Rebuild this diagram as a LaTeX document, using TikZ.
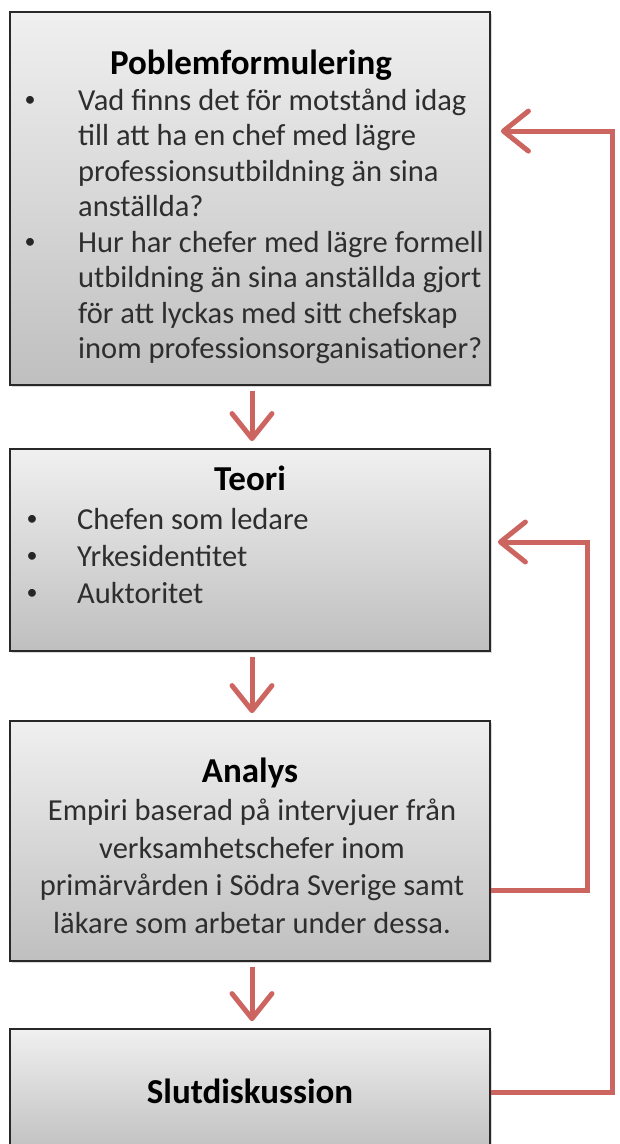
\documentclass[tikz,border=0pt]{standalone}
\usepackage{fontspec}
\setmainfont{Carlito}
\usetikzlibrary{arrows.meta,shadows}
\definecolor{arrred}{RGB}{204,100,96}
\definecolor{boxborder}{RGB}{40,40,40}
\begin{document}
\begin{tikzpicture}[x=1pt,y=-1pt,
  box/.style={rectangle, draw=boxborder, line width=1.8pt, top color=black!6, bottom color=black!25,
    minimum width=480pt, inner sep=0pt,
    drop shadow={shadow xshift=1.5pt, shadow yshift=-2pt, opacity=0.3}},
  ttl/.style={font=\fontsize{35}{42}\selectfont\bfseries, anchor=base, inner sep=0pt},
  bodyl/.style={font=\fontsize{30.5}{37}\selectfont, anchor=base west, inner sep=0pt, text=black!82},
  bodyc/.style={font=\fontsize{30.5}{37}\selectfont, anchor=base, inner sep=0pt, text=black!82},
  bul/.style={font=\fontsize{22}{26}\selectfont, anchor=base, inner sep=0pt, text=black!85},
  arr/.style={draw=arrred, line width=5pt, -{Straight Barb[length=25pt,width=40pt,round]}},
]
\useasboundingbox (0,0) rectangle (619,1144);
\clip (0,0) rectangle (619,1144);

% boxes
\node[box, minimum height=373pt] (b1) at (250,198.5) {};
\node[box, minimum height=202pt] (b2) at (250,550) {};
\node[box, minimum height=240pt] (b3) at (250,841) {};
\node[box, minimum height=126pt] (b4) at (250,1092) {};

% box 1 text
\node[ttl] (t1) at (251,74) {Poblemformulering};
\node[bul] (u1) at (30,106) {•};
\node[bodyl] (l11) at (78,110) {Vad finns det för motstånd idag};
\node[bodyl] (l12) at (78,145.5) {till att ha en chef med lägre};
\node[bodyl] (l13) at (78,181) {professionsutbildning än sina};
\node[bodyl] (l14) at (78,216.5) {anställda?};
\node[bul] (u2) at (30,248) {•};
\node[bodyl] (l15) at (78,252) {Hur har chefer med lägre formell};
\node[bodyl] (l16) at (78,287.5) {utbildning än sina anställda gjort};
\node[bodyl] (l17) at (78,323) {för att lyckas med sitt chefskap};
\node[bodyl] (l18) at (78,358.5) {inom professionsorganisationer?};

% box 2 text
\node[ttl] (t2) at (250,490) {Teori};
\node[bul] (u3) at (32,525) {•};
\node[bodyl] (l21) at (77,529) {Chefen som ledare};
\node[bul] (u4) at (32,562) {•};
\node[bodyl] (l22) at (77,566) {Yrkesidentitet};
\node[bul] (u5) at (32,599) {•};
\node[bodyl] (l23) at (77,603) {Auktoritet};

% box 3 text
\node[ttl] (t3) at (250,782) {Analys};
\node[bodyc] (l31) at (252,820) {Empiri baserad på intervjuer från};
\node[bodyc] (l32) at (252,858) {verksamhetschefer inom};
\node[bodyc] (l33) at (252,895) {primärvården i Södra Sverige samt};
\node[bodyc] (l34) at (252,933) {läkare som arbetar under dessa.};

% box 4 text
\node[ttl] (t4) at (250,1103) {Slutdiskussion};

% forward arrows
\draw[arr] ([xshift=2pt,yshift=-5pt]b1.south) -- ([xshift=2pt,yshift=7pt]b2.north);
\draw[arr] ([xshift=2pt,yshift=-5pt]b2.south) -- ([xshift=2pt,yshift=7pt]b3.north);
\draw[arr] ([xshift=2pt,yshift=-5pt]b3.south) -- ([xshift=2pt,yshift=7pt]b4.north);

% feedback arrows
\draw[arr] (b4.east) -- ++(122,0) |- ([xshift=10pt,yshift=-120pt]b1.north east);
\draw[arr] ([yshift=-49pt]b3.east) -- ++(97,0) |- ([xshift=7pt,yshift=8pt]b2.east);
\end{tikzpicture}
\end{document}
